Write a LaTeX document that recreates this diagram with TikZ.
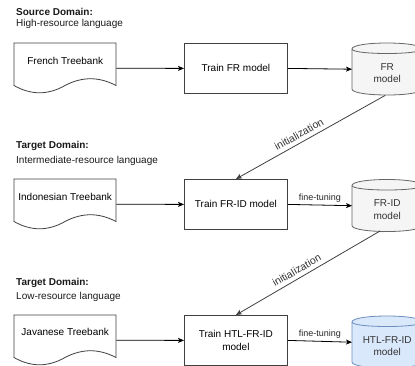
\documentclass[tikz,border=0pt]{standalone}
\usepackage{fontspec}
\setmainfont{Liberation Sans}
\usetikzlibrary{arrows.meta,calc}
\definecolor{grayfill}{HTML}{F5F5F5}
\definecolor{graystroke}{HTML}{666666}
\definecolor{graytext}{HTML}{333333}
\definecolor{bluefill}{HTML}{DAE8FC}
\definecolor{bluestroke}{HTML}{6C8EBF}
\newcommand{\mydocshape}[1]{%
  \begin{scope}[shift={(#1.north west)}]
    \draw[line width=0.8pt, draw=black!75, fill=white]
      (0,0) -- (102,0) -- (102,42.5)
      .. controls (85,33.5) and (68,33.5) .. (51,42.5)
      .. controls (34,52.2) and (17,52.2) .. (0,42.5) -- cycle;
  \end{scope}}
\newcommand{\mycylshape}[3]{%
  \begin{scope}[shift={(#1.north west)}]
    \draw[line width=0.8pt, draw=#3, fill=#2]
      (0,6) .. controls (0,-2) and (70,-2) .. (70,6) -- (70,46)
      .. controls (70,54) and (0,54) .. (0,46) -- cycle;
    \draw[line width=0.8pt, draw=#3] (0,6) .. controls (0,12) and (70,12) .. (70,6);
  \end{scope}}
\begin{document}
\begin{tikzpicture}[x=1pt,y=-1pt,
  every node/.style={font=\fontsize{10}{12.5}\selectfont},
  docbox/.style={minimum width=102pt, minimum height=50pt, inner sep=0pt, anchor=north west},
  trainbox/.style={draw=black!75, line width=0.8pt, fill=white, minimum width=103pt, minimum height=50pt, inner sep=0pt, anchor=north west, align=center},
  cylbox/.style={minimum width=70pt, minimum height=52pt, inner sep=0pt, anchor=north west},
  head/.style={anchor=west, inner sep=0pt, text=black!90},
  flow/.style={line width=0.8pt, -{Stealth[length=6pt,width=5pt,inset=1.5pt]}},
  initarrow/.style={line width=0.8pt, draw=black!75, -{Stealth[length=6pt,width=5pt,inset=1.5pt]}},
  initlabel/.style={font=\fontsize{10.5}{12}\selectfont, text=graytext, sloped, above=4pt, inner sep=0pt},
  ftlabel/.style={font=\fontsize{9}{11}\selectfont, text=black!85, above=2.5pt, inner sep=0pt},
  cyltext/.style={align=center, text=graytext, inner sep=0pt}
]
\useasboundingbox (0,0) rectangle (415,365);

% headings
\node[head, font=\bfseries\fontsize{10}{12}\selectfont] (h1a) at (16,11.7) {Source Domain:};
\node[head] (h1b) at (16,24) {High-resource language};
\node[head, font=\bfseries\fontsize{10}{12}\selectfont] (h2a) at (16,146) {Target Domain:};
\node[head] (h2b) at (16,160.7) {Intermediate-resource language};
\node[head, font=\bfseries\fontsize{10}{12}\selectfont] (h3a) at (16,283.3) {Target Domain:};
\node[head] (h3b) at (16,296.7) {Low-resource language};

% row 1
\node[docbox] (doc1) at (14,43) {};
\mydocshape{doc1}
\node (doc1t) at ($(doc1.north)+(0,18)$) {French Treebank};
\node[trainbox] (tr1) at (184,43) {Train FR model};
\node[cylbox] (cyl1) at (352,43) {};
\mycylshape{cyl1}{grayfill}{graystroke}
\node[cyltext] (cyl1t) at ($(cyl1.north)+(0,30)$) {FR\\model};

% row 2
\node[docbox] (doc2) at (14,179) {};
\mydocshape{doc2}
\node (doc2t) at ($(doc2.north)+(0,18)$) {Indonesian Treebank};
\node[trainbox] (tr2) at (184,179) {Train FR-ID model};
\node[cylbox] (cyl2) at (352,179.5) {};
\mycylshape{cyl2}{grayfill}{graystroke}
\node[cyltext] (cyl2t) at ($(cyl2.north)+(0,30)$) {FR-ID\\model};

% row 3
\node[docbox] (doc3) at (14,315) {};
\mydocshape{doc3}
\node (doc3t) at ($(doc3.north)+(0,17)$) {Javanese Treebank};
\node[trainbox] (tr3) at (184,315) {Train HTL-FR-ID\\model};
\node[cylbox] (cyl3) at (352,316) {};
\mycylshape{cyl3}{bluefill}{bluestroke}
\node[cyltext] (cyl3t) at ($(cyl3.north)+(0,30)$) {HTL-FR-ID\\model};

% connectors
\draw[flow] (doc1.east) -- (tr1.west);
\draw[flow] (tr1.east) -- (cyl1.west);
\draw[flow] (doc2.east) -- (tr2.west);
\draw[flow] (tr2.east) -- node[ftlabel] {fine-tuning} (cyl2.west);
\draw[flow] (doc3.east) -- (tr3.west);
\draw[flow] (tr3.east) -- node[ftlabel] {fine-tuning} (cyl3.west);

\draw[initarrow] ($(cyl1.south)+(-2,0)$) -- node[initlabel, pos=0.55] {initialization} (tr2.north);
\draw[initarrow] ($(cyl2.south)+(-7,-1)$) -- node[initlabel, pos=0.55] {initialization} (tr3.north);
\end{tikzpicture}
\end{document}
